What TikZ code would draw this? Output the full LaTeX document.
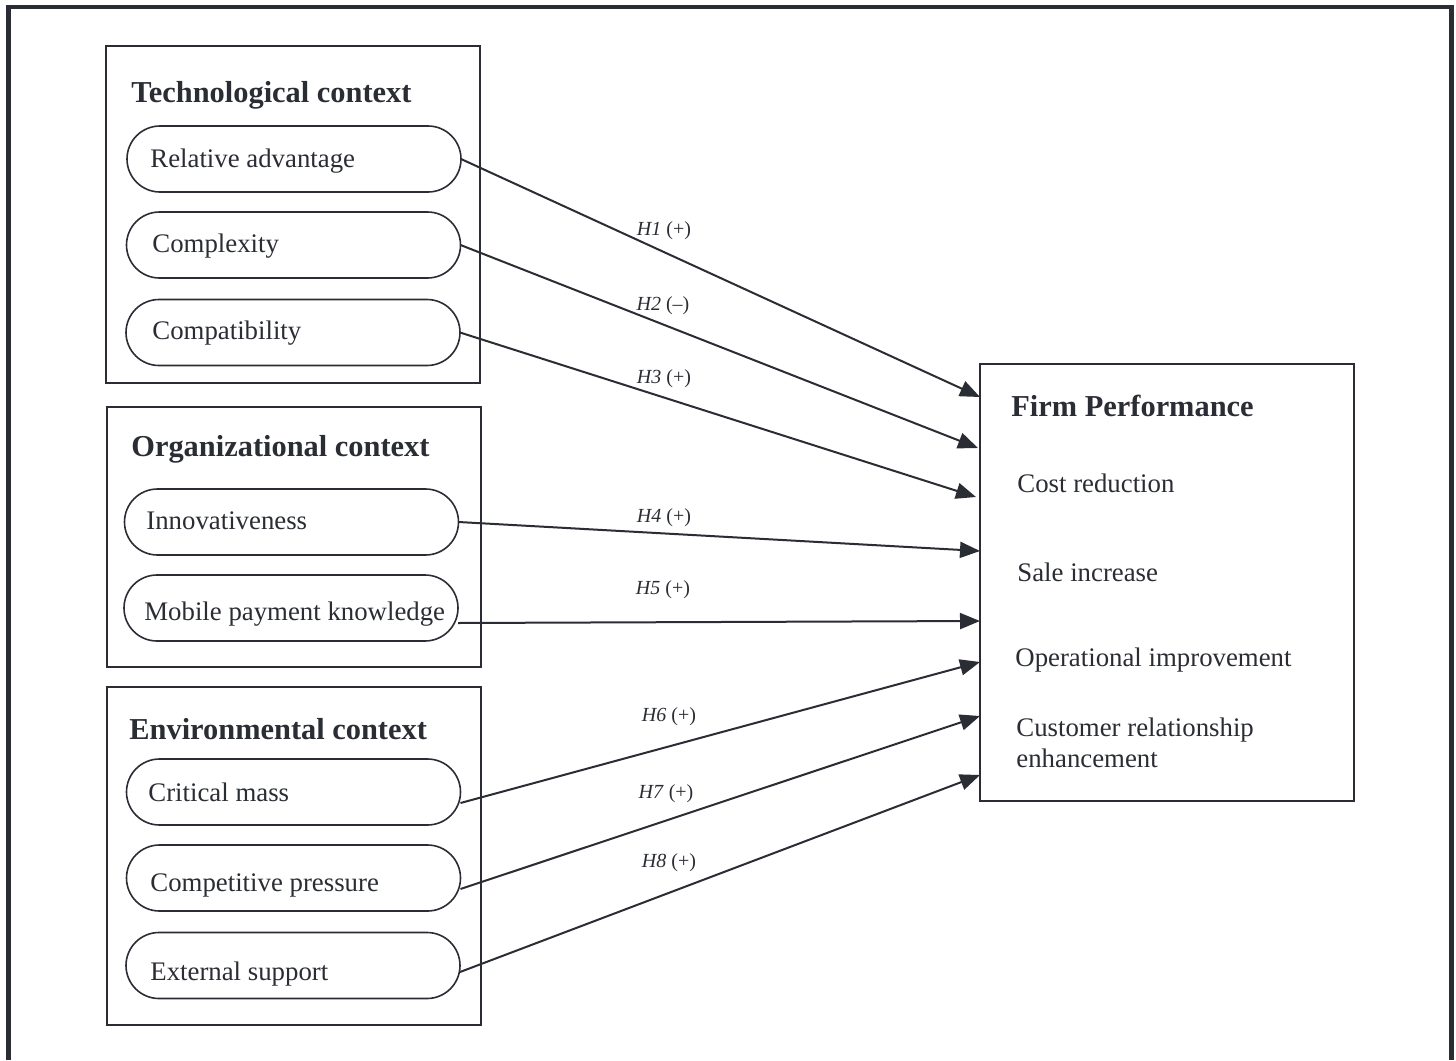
\documentclass[tikz,border=0pt]{standalone}
\usepackage{fontspec}
\setmainfont{Liberation Serif}
\usetikzlibrary{arrows.meta}
\definecolor{ink}{HTML}{2B2D34}
\begin{document}
\begin{tikzpicture}[x=0.5pt,y=-0.5pt,
  ctxbox/.style={draw=ink,line width=0.9pt,minimum width=187pt,inner sep=0pt,outer sep=0pt},
  pill/.style={draw=ink,line width=0.8pt,rounded corners=16.5pt,minimum width=167pt,minimum height=33pt,inner sep=0pt,outer sep=0pt},
  ttl/.style={anchor=base west,text=ink,font=\fontsize{15.2}{18}\selectfont\bfseries,inner sep=0pt},
  itm/.style={anchor=base west,text=ink,font=\fontsize{13.4}{16}\selectfont,inner sep=0pt},
  hyp/.style={text=ink,font=\fontsize{10}{12}\selectfont,inner sep=0pt},
  arr/.style={draw=ink,line width=1pt,-{Triangle[length=10pt,width=8pt]}}
]
\useasboundingbox (0,0) rectangle (1456,1060);
\fill[white] (0,0) rectangle (1456,1060);
% outer frame
\draw[ink,line width=2.2pt] (8.5,1060) -- (8.5,7) -- (1451.5,7) -- (1451.5,1060);

% context boxes
\node[ctxbox,minimum height=168.5pt] (tech) at (293,214.5) {};
\node[ctxbox,minimum height=130pt] (org) at (294,537) {};
\node[ctxbox,minimum height=169pt] (env) at (294,856) {};
\node[ctxbox,minimum height=218.5pt] (fp) at (1167,582.5) {};

% titles
\node[ttl] (ttech) at (131,102) {Technological context};
\node[ttl] (torg) at (131,456) {Organizational context};
\node[ttl] (tenv) at (129,739) {Environmental context};
\node[ttl] (tfp) at (1011,416) {Firm Performance};

% pills
\node[pill] (ra) at (294,159) {};
\node[pill] (cx) at (293.5,245) {};
\node[pill] (cp) at (293,332.5) {};
\node[pill] (in) at (291.5,522) {};
\node[pill] (mp) at (291,608) {};
\node[pill] (cm) at (293.5,792) {};
\node[pill] (cpp) at (293.5,878) {};
\node[pill] (es) at (293,965.5) {};

% pill texts
\node[itm] (lra) at (150,167) {Relative advantage};
\node[itm] (lcx) at (152,252) {Complexity};
\node[itm] (lcp) at (152,339) {Compatibility};
\node[itm] (lin) at (146,529) {Innovativeness};
\node[itm] (lmp) at (144,620) {Mobile payment knowledge};
\node[itm] (lcm) at (148,801) {Critical mass};
\node[itm] (lcpp) at (150,891) {Competitive pressure};
\node[itm] (les) at (150,980) {External support};

% firm performance items
\node[itm] (f1) at (1017,492) {Cost reduction};
\node[itm] (f2) at (1017,581) {Sale increase};
\node[itm] (f3) at (1015,666) {Operational improvement};
\node[itm] (f4a) at (1016,736) {Customer relationship};
\node[itm] (f4b) at (1016,767) {enhancement};

% arrows
\draw[arr] (ra.east) -- ([yshift=-16.5pt]fp.north west);
\draw[arr] (cx.east) -- ([xshift=-1pt,yshift=-42pt]fp.north west);
\draw[arr] (cp.east) -- ([xshift=-2pt,yshift=-66.5pt]fp.north west);
\draw[arr] (in.east) -- ([yshift=-93.5pt]fp.north west);
\draw[arr] ([yshift=-7.5pt]mp.east) -- ([yshift=-128.5pt]fp.north west);
\draw[arr] ([yshift=-5.5pt]cm.east) -- ([yshift=-149pt]fp.north west);
\draw[arr] ([yshift=-5.5pt]cpp.east) -- ([yshift=-176pt]fp.north west);
\draw[arr] ([yshift=-3.25pt]es.east) -- ([yshift=-205.5pt]fp.north west);

% hypothesis labels
\node[hyp] (h1) at (664,231) {\textit{H1} (+)};
\node[hyp] (h2) at (663,306) {\textit{H2} (--)};
\node[hyp] (h3) at (664,379) {\textit{H3} (+)};
\node[hyp] (h4) at (664,518) {\textit{H4} (+)};
\node[hyp] (h5) at (663,590) {\textit{H5} (+)};
\node[hyp] (h6) at (669,717) {\textit{H6} (+)};
\node[hyp] (h7) at (666,794) {\textit{H7} (+)};
\node[hyp] (h8) at (669,863) {\textit{H8} (+)};
\end{tikzpicture}
\end{document}
